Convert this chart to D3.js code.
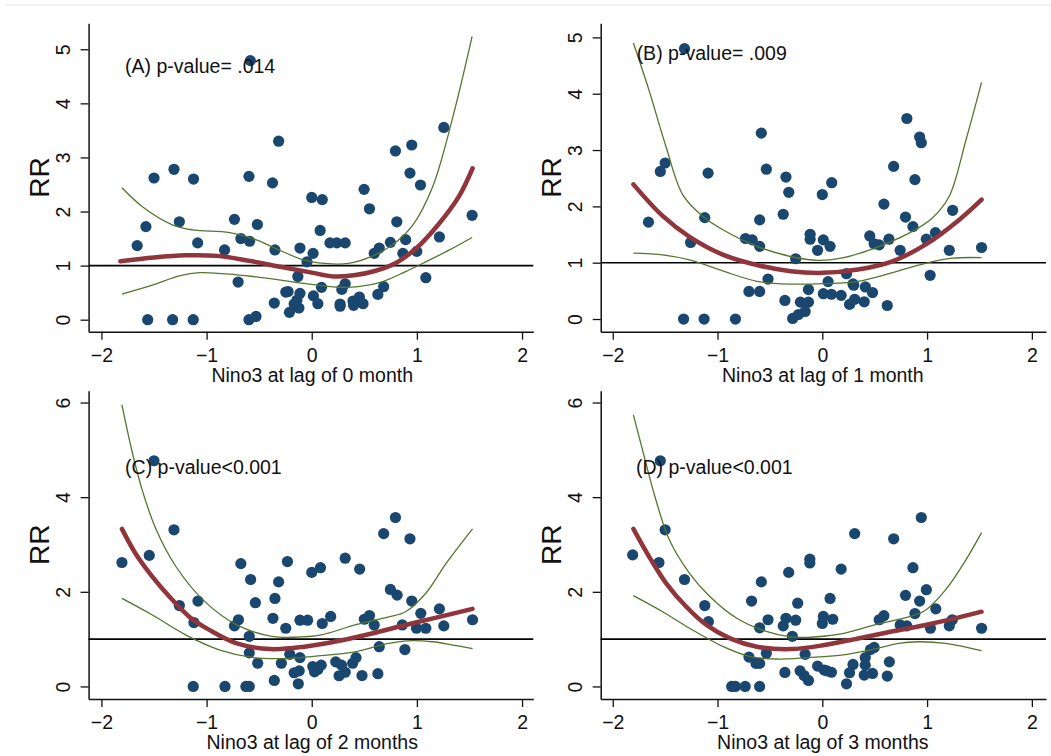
<!DOCTYPE html>
<html>
<head>
<meta charset="utf-8">
<script src="https://cdn.jsdelivr.net/npm/d3@7"></script>
<style>
  html, body { margin: 0; padding: 0; background: #fff; }
  svg { display: block; }
  text { font-family: "Liberation Sans", Arial, Helvetica, sans-serif; fill: #111; }
</style>
</head>
<body>
<svg id="chart" width="1051" height="756"></svg>
<script>
// ---------------- data ----------------
const xTicks = [-2, -1, 0, 1, 2];
const yTicksTop = [0, 1, 2, 3, 4, 5];
const yTicksBottom = [0, 2, 4, 6];
const yTitle = "RR";
const xTitles = ["Nino3 at lag of 0 month", "Nino3 at lag of 1 month", "Nino3 at lag of 2 months", "Nino3 at lag of 3 months"];
const annotations = ["(A) p-value= .014", "(B) p-value= .009", "(C) p-value<0.001", "(D) p-value<0.001"];
const annotX = [-1.775, -1.772, -1.775, -1.778];
const annotY = [4.70, 4.73, 4.63, 4.63];
const refValue = 1;

// observed RR vs Nino3 (x, RR)
const pointsA = [[-0.584,4.79],[1.256,3.555],[-0.315,3.30],[0.796,3.12],[0.951,3.23],[-1.31,2.78],[-1.50,2.62],[-1.124,2.60],[-0.597,2.65],[-0.373,2.53],[0.934,2.71],[1.034,2.49],[0.498,2.41],[0,2.26],[0.10,2.22],[0.549,2.05],[1.525,1.93],[-1.577,1.72],[-1.259,1.81],[-0.735,1.855],[-0.517,1.76],[0.809,1.81],[0.08,1.65],[-1.66,1.37],[-1.085,1.42],[-0.829,1.29],[-0.674,1.50],[-0.591,1.45],[-0.35,1.29],[-0.112,1.325],[0.013,1.226],[0.173,1.42],[0.238,1.42],[0.318,1.42],[0.594,1.226],[0.642,1.325],[0.748,1.43],[0.893,1.48],[0.867,1.226],[0.999,1.263],[1.214,1.53],[-0.045,1.07],[-0.132,0.80],[1.085,0.776],[-0.70,0.696],[0.093,0.598],[0.318,0.665],[0.286,0.56],[0.684,0.61],[0.629,0.468],[-0.247,0.51],[-0.225,0.52],[-0.112,0.487],[0.016,0.44],[-0.141,0.36],[-0.167,0.29],[-0.122,0.216],[-0.212,0.136],[-0.356,0.308],[0.058,0.296],[0.27,0.29],[0.27,0.25],[0.392,0.345],[0.453,0.42],[0.398,0.265],[0.488,0.296],[-1.56,0],[-1.323,0],[-1.127,0],[-0.597,0],[-0.53,0.06]];
const pointsB = [[-1.315,4.80],[0.807,3.56],[-0.582,3.30],[0.929,3.23],[0.945,3.13],[-1.50,2.77],[-1.546,2.62],[-1.09,2.59],[-0.534,2.66],[0.681,2.71],[-0.347,2.52],[0.884,2.475],[0.09,2.42],[0,2.21],[-0.32,2.25],[0.588,2.04],[1.244,1.93],[-1.659,1.72],[-1.122,1.80],[-0.598,1.76],[-0.373,1.86],[0.794,1.81],[0.865,1.64],[-1.257,1.36],[-0.733,1.43],[-0.669,1.405],[-0.598,1.29],[-0.116,1.505],[-0.116,1.417],[-0.045,1.22],[0.01,1.405],[0.074,1.29],[0.453,1.475],[0.495,1.335],[0.543,1.317],[0.636,1.417],[0.743,1.22],[0.993,1.417],[1.08,1.534],[1.212,1.22],[1.52,1.27],[-0.254,1.07],[0.231,0.805],[1.029,0.776],[-0.518,0.71],[0.055,0.664],[0.293,0.623],[0.30,0.60],[0.411,0.57],[0.479,0.47],[-0.70,0.49],[-0.598,0.49],[-0.132,0.523],[0.01,0.45],[0.087,0.44],[0.18,0.42],[-0.357,0.33],[-0.209,0.30],[-0.132,0.30],[-0.164,0.135],[-0.228,0.08],[-0.283,0.01],[0.26,0.26],[0.309,0.35],[0.40,0.306],[0.62,0.24],[-1.324,0],[-1.128,0],[-0.829,0]];
const pointsC = [[-1.50,4.77],[0.796,3.57],[-1.31,3.31],[0.684,3.23],[0.934,3.12],[-1.805,2.62],[-1.545,2.77],[-0.674,2.595],[-0.231,2.64],[0,2.41],[0.083,2.51],[0.318,2.71],[0.456,2.48],[-0.581,2.26],[-0.315,2.21],[0.748,2.05],[0.812,1.93],[0.951,1.805],[-1.259,1.71],[-1.082,1.805],[-0.536,1.77],[-0.35,1.86],[-1.12,1.35],[-0.735,1.28],[-0.697,1.41],[-0.369,1.44],[-0.247,1.23],[-0.112,1.40],[-0.039,1.40],[0.10,1.33],[0.18,1.48],[0.50,1.42],[0.549,1.50],[0.594,1.30],[0.861,1.30],[0.996,1.23],[1.085,1.23],[1.037,1.545],[1.214,1.64],[1.256,1.28],[1.529,1.41],[-0.594,1.06],[0.642,0.84],[0.886,0.78],[-0.594,0.71],[-0.514,0.49],[-0.289,0.49],[-0.209,0.68],[-0.112,0.61],[0.228,0.52],[0.283,0.45],[0.318,0.30],[0.389,0.49],[0.421,0.61],[0.01,0.42],[0.09,0.45],[0.058,0.36],[0.026,0.31],[-0.167,0.29],[-0.119,0.33],[-0.356,0.127],[-0.128,0.056],[0.26,0.226],[0.478,0.23],[0.629,0.27],[-1.127,0],[-0.825,0],[-0.626,0],[-0.594,0]];
const pointsD = [[-1.546,4.77],[0.945,3.57],[-1.50,3.31],[0.309,3.23],[0.681,3.12],[-1.81,2.78],[-1.559,2.62],[-0.119,2.69],[-0.119,2.61],[-0.321,2.41],[0.18,2.48],[0.865,2.51],[-1.315,2.26],[-0.582,2.21],[0.993,2.045],[0.794,1.925],[0.074,1.86],[-0.675,1.805],[-0.235,1.76],[0.929,1.805],[-1.122,1.71],[1.083,1.64],[-1.087,1.37],[-0.518,1.41],[-0.347,1.44],[-0.373,1.28],[-0.254,1.40],[-0.598,1.24],[0.01,1.48],[0,1.33],[0.10,1.42],[0.543,1.41],[0.588,1.495],[0.884,1.54],[0.743,1.30],[0.807,1.28],[1.032,1.23],[1.212,1.28],[1.241,1.41],[1.52,1.23],[-0.286,1.06],[0.495,0.825],[0.46,0.78],[0.41,0.61],[0.41,0.45],[-0.70,0.62],[-0.534,0.70],[-0.633,0.487],[-0.598,0.487],[-0.164,0.68],[-0.045,0.43],[0.019,0.345],[0.087,0.30],[0.045,0.33],[0.293,0.465],[0.26,0.29],[0.64,0.52],[-0.357,0.296],[-0.212,0.33],[-0.174,0.23],[-0.132,0.127],[0.40,0.24],[0.479,0.275],[0.62,0.22],[0.231,0.056],[-0.865,0],[-0.829,0],[-0.736,0],[-0.598,0]];

// fitted RR and 95% CI (x, value)
const fitA = [[-1.82,1.08],[-1.5,1.15],[-1.2,1.19],[-0.9,1.18],[-0.6,1.09],[-0.3,0.98],[0,0.87],[0.2,0.80],[0.4,0.82],[0.6,0.90],[0.8,1.05],[1.0,1.33],[1.2,1.75],[1.4,2.28],[1.53,2.80]];
const upperA = [[-1.805,2.44],[-1.61,2.09],[-1.32,1.75],[-1.13,1.66],[-0.78,1.61],[-0.52,1.47],[-0.296,1.275],[-0.07,1.10],[0.122,1.04],[0.347,1.04],[0.57,1.17],[0.764,1.38],[0.957,1.74],[1.15,2.46],[1.342,3.75],[1.525,5.24]];
const lowerA = [[-1.805,0.475],[-1.516,0.64],[-1.259,0.81],[-1.066,0.87],[-0.713,0.83],[-0.392,0.76],[-0.071,0.67],[0.25,0.60],[0.443,0.61],[0.668,0.70],[0.893,0.89],[1.085,1.07],[1.31,1.29],[1.525,1.52]];
const fitB = [[-1.803,2.39],[-1.524,1.83],[-1.267,1.46],[-0.945,1.14],[-0.624,0.96],[-0.302,0.85],[0,0.82],[0.34,0.88],[0.662,1.02],[0.984,1.32],[1.305,1.76],[1.52,2.12]];
const upperB = [[-1.803,4.90],[-1.652,4.05],[-1.49,3.05],[-1.33,2.20],[-1.138,1.82],[-0.945,1.58],[-0.624,1.29],[-0.302,1.11],[-0.045,1.04],[0.18,1.08],[0.50,1.26],[0.823,1.52],[1.048,1.79],[1.209,2.17],[1.37,3.17],[1.52,4.20]];
const lowerB = [[-1.803,1.17],[-1.524,1.14],[-1.267,1.05],[-0.945,0.85],[-0.624,0.67],[-0.302,0.62],[0.02,0.63],[0.34,0.67],[0.662,0.82],[0.984,0.99],[1.24,1.08],[1.52,1.09]];
const fitC = [[-1.805,3.33],[-1.676,2.81],[-1.516,2.32],[-1.355,1.90],[-1.163,1.47],[-0.97,1.19],[-0.713,0.91],[-0.392,0.79],[-0.07,0.84],[0.25,0.96],[0.572,1.12],[0.893,1.30],[1.214,1.47],[1.529,1.64]];
const upperC = [[-1.805,5.95],[-1.708,4.96],[-1.612,4.15],[-1.484,3.34],[-1.29,2.53],[-1.034,1.83],[-0.713,1.30],[-0.392,1.065],[-0.167,1.04],[0.09,1.09],[0.411,1.30],[0.732,1.47],[0.893,1.58],[1.085,1.97],[1.278,2.60],[1.529,3.33]];
const lowerC = [[-1.805,1.86],[-1.516,1.51],[-1.195,1.086],[-0.873,0.77],[-0.552,0.61],[-0.231,0.59],[0.09,0.65],[0.411,0.73],[0.732,0.91],[0.957,0.97],[1.15,0.945],[1.342,0.875],[1.529,0.80]];
const fitD = [[-1.803,3.33],[-1.652,2.74],[-1.49,2.18],[-1.298,1.685],[-1.106,1.30],[-0.881,1.015],[-0.624,0.84],[-0.302,0.79],[0.02,0.875],[0.34,1.015],[0.662,1.16],[0.984,1.30],[1.305,1.46],[1.52,1.58]];
const upperD = [[-1.803,5.74],[-1.716,5.00],[-1.588,3.94],[-1.46,3.10],[-1.267,2.39],[-1.074,1.90],[-0.816,1.44],[-0.56,1.18],[-0.302,1.05],[-0.109,1.04],[0.18,1.11],[0.50,1.30],[0.823,1.47],[0.984,1.61],[1.176,2.04],[1.369,2.67],[1.52,3.25]];
const lowerD = [[-1.803,1.92],[-1.524,1.58],[-1.267,1.23],[-0.945,0.84],[-0.688,0.63],[-0.43,0.58],[-0.141,0.61],[0.18,0.66],[0.50,0.79],[0.726,0.91],[0.919,0.945],[1.176,0.91],[1.52,0.755]];

// ---------------- layout ----------------
const layout = [
  { left: 88.6,  right: 533.3, top: 23.3,  bottom: 331.7, xDom: [-2.122, 2.107], yDom: [-0.222, 5.48], yTicks: yTicksTop },
  { left: 600.7, right: 1046,  top: 23.3,  bottom: 331.7, xDom: [-2.115, 2.135], yDom: [-0.225, 5.25], yTicks: yTicksTop },
  { left: 88.6,  right: 533.3, top: 390.7, bottom: 699,   xDom: [-2.122, 2.107], yDom: [-0.265, 6.25], yTicks: yTicksBottom },
  { left: 600.7, right: 1046,  top: 390.7, bottom: 699,   xDom: [-2.115, 2.135], yDom: [-0.265, 6.25], yTicks: yTicksBottom }
];
const panels = [
  { pts: pointsA, fit: fitA, up: upperA, lo: lowerA },
  { pts: pointsB, fit: fitB, up: upperB, lo: lowerB },
  { pts: pointsC, fit: fitC, up: upperC, lo: lowerC },
  { pts: pointsD, fit: fitD, up: upperD, lo: lowerD }
];

const NAVY = "#1a476f", MAROON = "#90353b", GREEN = "#55752f", AXIS = "#111";
const FONT = 19.5;

const svg = d3.select("#chart");

// faint border line at top
svg.append("line").attr("x1", 6).attr("x2", 1051).attr("y1", 5).attr("y2", 5)
  .attr("stroke", "#e8eef4").attr("stroke-width", 1.5);

panels.forEach((p, i) => {
  const L = layout[i];
  const x = d3.scaleLinear().domain(L.xDom).range([L.left, L.right]);
  const y = d3.scaleLinear().domain(L.yDom).range([L.bottom, L.top]);
  const g = svg.append("g");

  // x axis
  const xa = g.append("g").attr("transform", `translate(0,${L.bottom})`)
    .call(d3.axisBottom(x).tickValues(xTicks).tickSize(8).tickSizeOuter(0).tickFormat(d3.format("d")));
  xa.select(".domain").attr("stroke", AXIS).attr("stroke-width", 1.5);
  xa.selectAll(".tick line").attr("stroke", AXIS).attr("stroke-width", 1.3);
  xa.selectAll(".tick text").attr("y", 30).attr("dy", 0)
    .style("font-size", FONT + "px").style("font-family", '"Liberation Sans", Arial, sans-serif').attr("fill", "#111");

  // y axis
  const ya = g.append("g").attr("transform", `translate(${L.left},0)`)
    .call(d3.axisLeft(y).tickValues(L.yTicks).tickSize(8).tickSizeOuter(0).tickFormat(d3.format("d")));
  ya.select(".domain").attr("stroke", AXIS).attr("stroke-width", 1.5);
  ya.selectAll(".tick line").attr("stroke", AXIS).attr("stroke-width", 1.3);
  ya.selectAll(".tick text").attr("transform", "rotate(-90)").attr("x", 0).attr("y", -19).attr("dy", 0)
    .attr("text-anchor", "middle")
    .style("font-size", FONT + "px").style("font-family", '"Liberation Sans", Arial, sans-serif').attr("fill", "#111");

  // axis titles
  g.append("text")
    .attr("transform", `translate(${L.left - 40},${(L.top + L.bottom) / 2}) rotate(-90)`)
    .attr("text-anchor", "middle").style("font-size", "28px").text(yTitle);
  g.append("text")
    .attr("x", x(0) + 0.5).attr("y", L.bottom + 50)
    .attr("text-anchor", "middle").style("font-size", FONT + "px").text(xTitles[i]);

  // reference line
  g.append("line").attr("x1", L.left).attr("x2", L.right).attr("y1", y(refValue)).attr("y2", y(refValue))
    .attr("stroke", "#000").attr("stroke-width", 1.6);

  // scatter
  g.append("g").selectAll("circle").data(p.pts).join("circle")
    .attr("cx", d => x(d[0])).attr("cy", d => y(d[1])).attr("r", 5.6).attr("fill", NAVY);

  const line = d3.line().x(d => x(d[0])).y(d => y(d[1])).curve(d3.curveCatmullRom.alpha(0.5));
  g.append("path").datum(p.up).attr("d", line).attr("fill", "none").attr("stroke", GREEN).attr("stroke-width", 1.3);
  g.append("path").datum(p.lo).attr("d", line).attr("fill", "none").attr("stroke", GREEN).attr("stroke-width", 1.3);
  g.append("path").datum(p.fit).attr("d", line).attr("fill", "none").attr("stroke", MAROON)
    .attr("stroke-width", 4.5).attr("stroke-linecap", "round");

  // annotation
  g.append("text").attr("x", x(annotX[i])).attr("y", y(annotY[i])).attr("dy", "0.36em")
    .style("font-size", FONT + "px").text(annotations[i]);
});
</script>
</body>
</html>
